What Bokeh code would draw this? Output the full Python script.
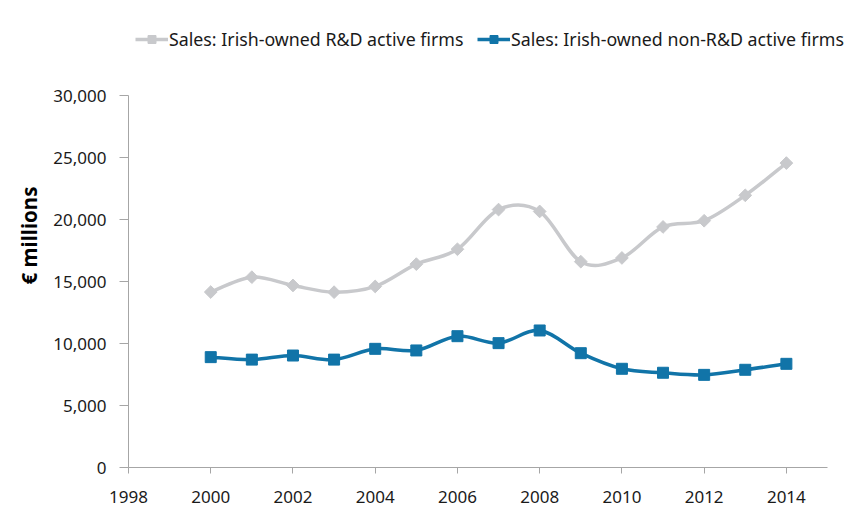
from bokeh.plotting import figure
from bokeh.models import Legend, LegendItem, Title, FixedTicker, NumeralTickFormatter, Range1d, ColumnDataSource
from bokeh.embed import file_html
from bokeh.resources import INLINE
import math

years = [2000, 2001, 2002, 2003, 2004, 2005, 2006, 2007, 2008, 2009, 2010, 2011, 2012, 2013, 2014]
rd_active = [14150, 15350, 14680, 14140, 14600, 16400, 17600, 20800, 20650, 16600, 16900, 19400, 19900, 21950, 24550]
non_rd = [8900, 8700, 9030, 8700, 9570, 9440, 10590, 10030, 11050, 9220, 7960, 7640, 7470, 7880, 8360]
x_ticks = [1998, 2000, 2002, 2004, 2006, 2008, 2010, 2012, 2014]
y_ticks = [0, 5000, 10000, 15000, 20000, 25000, 30000]
x_axis_span = (1998, 2015)
y_axis_span = (0, 30000)
label_rd = "Sales: Irish-owned R&D active firms"
label_non = "Sales: Irish-owned non-R&D active firms"
y_title = "€ millions"

GRAY = "#C8C9CC"
BLUE = "#1174A8"
FONT = "Noto Sans"
TXT = "#1a1a1a"

# layout (pixels)
W, H = 847, 517
LEFT, BOTTOM = 128, 50
AXIS_TOP_PX = 95      # y position of the top of the value axis
AXIS_RIGHT_PX = 827   # x position of the end of the category axis

frame_w = W - LEFT
frame_h = H - BOTTOM
y_top = y_axis_span[0] + (y_axis_span[1] - y_axis_span[0]) * frame_h / (frame_h - AXIS_TOP_PX)
x_right = x_axis_span[0] + (x_axis_span[1] - x_axis_span[0]) * frame_w / (AXIS_RIGHT_PX - LEFT)


def smooth_segments(xs, ys):
    n = len(xs)
    d = dict(x0=[], y0=[], x1=[], y1=[], cx0=[], cy0=[], cx1=[], cy1=[])
    for i in range(n - 1):
        im = max(i - 1, 0)
        ip = min(i + 2, n - 1)
        d["x0"].append(xs[i]); d["y0"].append(ys[i])
        d["x1"].append(xs[i + 1]); d["y1"].append(ys[i + 1])
        d["cx0"].append(xs[i] + (xs[i + 1] - xs[im]) / 6.0)
        d["cy0"].append(ys[i] + (ys[i + 1] - ys[im]) / 6.0)
        d["cx1"].append(xs[i + 1] - (xs[ip] - xs[i]) / 6.0)
        d["cy1"].append(ys[i + 1] - (ys[ip] - ys[i]) / 6.0)
    return ColumnDataSource(d)


p = figure(width=W, height=H, output_backend="svg", toolbar_location=None,
           x_range=Range1d(x_axis_span[0], x_right), y_range=Range1d(y_axis_span[0], y_top),
           min_border_left=LEFT, min_border_right=0, min_border_top=0, min_border_bottom=BOTTOM)
p.outline_line_color = None
p.xgrid.visible = False
p.ygrid.visible = False

for ax in (p.xaxis[0], p.yaxis[0]):
    ax.axis_line_color = "#A6A6A6"
    ax.major_tick_line_color = "#A6A6A6"
    ax.minor_tick_line_color = None
    ax.major_tick_in = 0
    ax.major_label_text_font = FONT
    ax.major_label_text_font_size = "17px"
    ax.major_label_text_color = TXT

p.xaxis.ticker = FixedTicker(ticks=x_ticks)
p.xaxis.bounds = x_axis_span
p.xaxis.major_tick_out = 6
p.xaxis.major_label_standoff = 17
p.yaxis.ticker = FixedTicker(ticks=y_ticks)
p.yaxis.bounds = y_axis_span
p.yaxis.formatter = NumeralTickFormatter(format="0,0")
p.yaxis.major_tick_out = 9
p.yaxis.major_label_standoff = 13

# off-screen key lines (used only as legend swatches)
key_x = [x_axis_span[0] - 5, x_axis_span[0] - 4]
key_y = [-y_top, -y_top]

# series 1: gray with diamonds
src1 = smooth_segments(years, rd_active)
p.bezier(x0="x0", y0="y0", x1="x1", y1="y1", cx0="cx0", cy0="cy0", cx1="cx1", cy1="cy1",
         source=src1, line_color=GRAY, line_width=3.5)
m1 = p.scatter(years, rd_active, marker="square", size=9, angle=math.pi / 4,
               fill_color=GRAY, line_color=GRAY)
l1 = p.line(key_x, key_y, line_color=GRAY, line_width=3.5)

# series 2: blue with squares
src2 = smooth_segments(years, non_rd)
p.bezier(x0="x0", y0="y0", x1="x1", y1="y1", cx0="cx0", cy0="cy0", cx1="cx1", cy1="cy1",
         source=src2, line_color=BLUE, line_width=3.5)
m2 = p.scatter(years, non_rd, marker="square", size=11, fill_color=BLUE, line_color=BLUE)
l2 = p.line(key_x, key_y, line_color=BLUE, line_width=3.5)

legend_style = dict(orientation="horizontal", label_text_font=FONT, label_text_font_size="17.8px",
                    label_text_color=TXT, glyph_width=33, glyph_height=20, label_standoff=1,
                    padding=0, margin=0, border_line_color=None, background_fill_alpha=0)
p.add_layout(Legend(items=[LegendItem(label=label_rd, renderers=[l1, m1])],
                    location=(7, 416), **legend_style))
p.add_layout(Legend(items=[LegendItem(label=label_non, renderers=[l2, m2])],
                    location=(349, 416), **legend_style))

p.add_layout(Title(text=y_title, align="left", offset=183,
                   text_font=FONT, text_font_size="20.5px", text_font_style="bold",
                   text_color="#000000", standoff=16), "left")

open("out.html", "w").write(file_html(p, INLINE))
